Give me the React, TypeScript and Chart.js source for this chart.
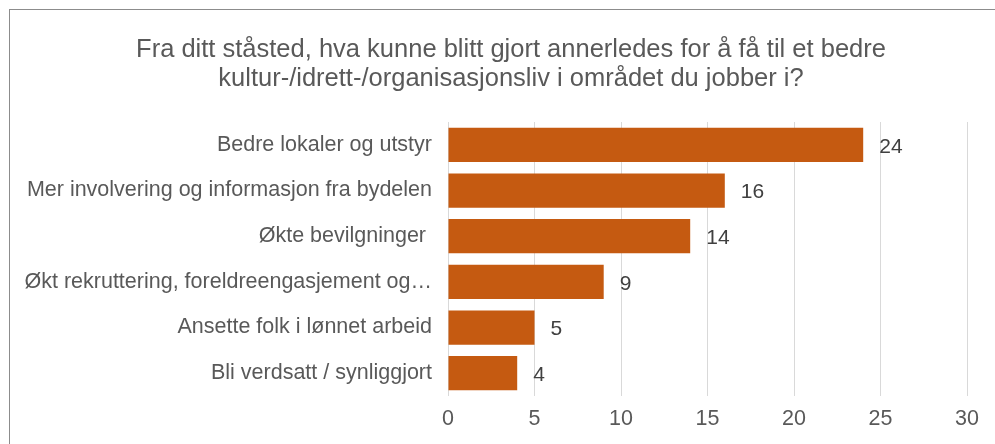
import React, { useEffect, useRef } from "react";
import { Chart, registerables } from "chart.js";

Chart.register(...registerables);

const titleLines = [
  "Fra ditt ståsted, hva kunne blitt gjort annerledes for å få til et bedre",
  "kultur-/idrett-/organisasjonsliv i området du jobber i?",
];
const categories = [
  "Bedre lokaler og utstyr",
  "Mer involvering og informasjon fra bydelen",
  "Økte bevilgninger ",
  "Økt rekruttering, foreldreengasjement og…",
  "Ansette folk i lønnet arbeid",
  "Bli verdsatt / synliggjort",
];
const values = [24, 16, 14, 9, 5, 4];
const xMax = 30;
const xStep = 5;

const FONT = "'Liberation Sans', Arial, sans-serif";

const valueLabels = {
  id: "valueLabels",
  afterDatasetsDraw(chart: any) {
    const ctx = chart.ctx;
    const meta = chart.getDatasetMeta(0);
    ctx.save();
    ctx.font = `21px ${FONT}`;
    ctx.fillStyle = "#404040";
    ctx.textAlign = "left";
    ctx.textBaseline = "middle";
    meta.data.forEach((el: any, i: number) => {
      ctx.fillText(String(values[i]), el.x + 16, el.y + 2);
    });
    ctx.restore();
  },
};

const titlePlugin = {
  id: "customTitle",
  afterDraw(chart: any) {
    const ctx = chart.ctx;
    ctx.save();
    ctx.font = `25.5px ${FONT}`;
    ctx.fillStyle = "#595959";
    ctx.textAlign = "center";
    ctx.textBaseline = "middle";
    titleLines.forEach((line, i) => {
      ctx.fillText(line, 511, 49.5 + i * 29);
    });
    ctx.restore();
  },
};

export default function App() {
  const ref = useRef<HTMLCanvasElement | null>(null);
  useEffect(() => {
    if (!ref.current) return;
    const chart = new Chart(ref.current, {
      type: "bar",
      data: {
        labels: categories,
        datasets: [
          {
            data: values,
            backgroundColor: "#C55A11",
            borderWidth: 0,
            categoryPercentage: 1,
            barPercentage: 0.75,
          },
        ],
      },
      options: {
        indexAxis: "y",
        animation: false,
        responsive: false,
        devicePixelRatio: 1,
        layout: { padding: { left: 0, right: 28, top: 122, bottom: 0 } },
        plugins: {
          legend: { display: false },
          tooltip: { enabled: false },
          title: { display: false },
        },
        scales: {
          x: {
            min: 0,
            max: xMax,
            afterFit: (s: any) => {
              s.height = 48;
            },
            ticks: {
              stepSize: xStep,
              color: "#595959",
              font: { family: FONT, size: 21.5 },
              padding: 10,
            },
            grid: { color: "#d9d9d9", lineWidth: 1, drawTicks: false },
            border: { display: false },
          },
          y: {
            afterFit: (s: any) => {
              s.width = 448;
            },
            ticks: {
              color: "#595959",
              font: { family: FONT, size: 21.5 },
              padding: 16,
              autoSkip: false,
            },
            grid: { display: false, drawTicks: false },
            border: { display: false },
          },
        },
      },
      plugins: [valueLabels, titlePlugin],
    });
    return () => chart.destroy();
  }, []);
  return (
    <div>
      <div
        style={{
          position: "fixed",
          left: 9,
          top: 9,
          width: 1100,
          height: 600,
          border: "1px solid #8c8c8c",
          boxSizing: "border-box",
        }}
      />
      <canvas
        ref={ref}
        width={995}
        height={444}
        style={{ position: "fixed", left: 0, top: 0, width: 995, height: 444 }}
      />
    </div>
  );
}
